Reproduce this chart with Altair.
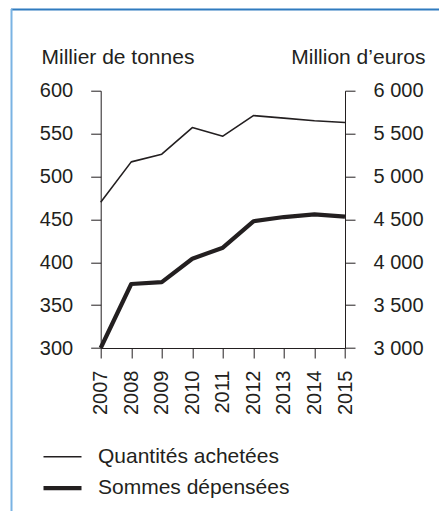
import altair as alt
import pandas as pd

years = [2007, 2008, 2009, 2010, 2011, 2012, 2013, 2014, 2015]
quantites = [470, 517, 526, 557, 547, 571, 568, 565, 563]          # milliers de tonnes
sommes = [3000, 3746, 3769, 4041, 4170, 4477, 4527, 4559, 4531]    # millions d'euros
series_names = ["Quantités achetées", "Sommes dépensées"]
left_ticks = [300, 350, 400, 450, 500, 550, 600]
right_ticks = [3000, 3500, 4000, 4500, 5000, 5500, 6000]

rows = []
for y, q in zip(years, quantites):
    rows.append({"year": y, "series": series_names[0], "value": q})
for y, s in zip(years, sommes):
    rows.append({"year": y, "series": series_names[1], "value": s})
df = pd.DataFrame(rows)

FONT = "Liberation Sans"
INK = "#231f20"
FS = 20
TFS = 21

x_enc = alt.X(
    "year:O",
    scale=alt.Scale(type="point", padding=0),
    axis=alt.Axis(
        title=None, labelAngle=-90, labelFontSize=FS, labelFont=FONT,
        labelColor=INK, tickSize=10, labelPadding=12, domainColor=INK,
        tickColor=INK, grid=False,
    ),
)

stroke_enc = alt.StrokeWidth(
    "series:N",
    scale=alt.Scale(domain=series_names, range=[1.6, 4.2]),
    legend=alt.Legend(
        title=None, orient="none", legendX=-59.7, legendY=346,
        symbolType="stroke", symbolSize=1444, symbolStrokeColor=INK,
        labelFontSize=TFS, labelFont=FONT, labelColor=INK, labelOffset=14,
        labelLimit=0, rowPadding=0, padding=0,
    ),
)

base = alt.Chart(df)

line_q = base.transform_filter(
    alt.datum.series == series_names[0]
).mark_line(color=INK, strokeJoin="round").encode(
    x=x_enc,
    y=alt.Y(
        "value:Q",
        scale=alt.Scale(domain=[300, 600], nice=False, zero=False),
        axis=alt.Axis(
            orient="left", values=left_ticks, title="Millier de tonnes",
            titleAngle=0, titleAlign="left", titleBaseline="alphabetic",
            titleX=-59.7, titleY=-27.4, titleFontSize=TFS, titleFont=FONT,
            titleFontWeight="normal", titleColor=INK,
            labelFontSize=FS, labelFont=FONT, labelColor=INK,
            tickSize=10, labelPadding=18, domainColor=INK, tickColor=INK,
            grid=False,
        ),
    ),
    strokeWidth=stroke_enc,
)

line_s = base.transform_filter(
    alt.datum.series == series_names[1]
).mark_line(color=INK, strokeJoin="round").encode(
    x=x_enc,
    y=alt.Y(
        "value:Q",
        scale=alt.Scale(domain=[3000, 6000], nice=False, zero=False),
        axis=alt.Axis(
            orient="right", values=right_ticks, title="Million d\u2019euros",
            titleAngle=0, titleAlign="right", titleBaseline="alphabetic",
            titleX=80, titleY=-27.4, titleFontSize=TFS, titleFont=FONT,
            titleFontWeight="normal", titleColor=INK,
            labelFontSize=FS, labelFont=FONT, labelColor=INK,
            labelExpr="replace(format(datum.value, ',d'), ',', ' ')",
            tickSize=10, labelPadding=18, domainColor=INK, tickColor=INK,
            grid=False,
        ),
    ),
    strokeWidth=stroke_enc,
)

frame_df = pd.DataFrame({"f": [0]})
frame_top = alt.Chart(frame_df).mark_rule(color="#2f7bbf", strokeWidth=2).encode(
    x=alt.value(-89.7), x2=alt.value(350), y=alt.value(-81.2)
)
frame_left = alt.Chart(frame_df).mark_rule(color="#7ab3e3", strokeWidth=2).encode(
    x=alt.value(-89.2), y=alt.value(-81.7), y2=alt.value(440)
)

chart = alt.layer(frame_top, frame_left, line_q, line_s).resolve_scale(
    y="independent"
).properties(
    width=244.3,
    height=257.3,
    padding={"left": 92.7, "top": 82.7, "right": 94, "bottom": 163},
    autosize=alt.AutoSizeParams(type="none"),
).configure_view(stroke=None)

chart.save("out.html", embed_options={"renderer": "svg", "actions": False})
